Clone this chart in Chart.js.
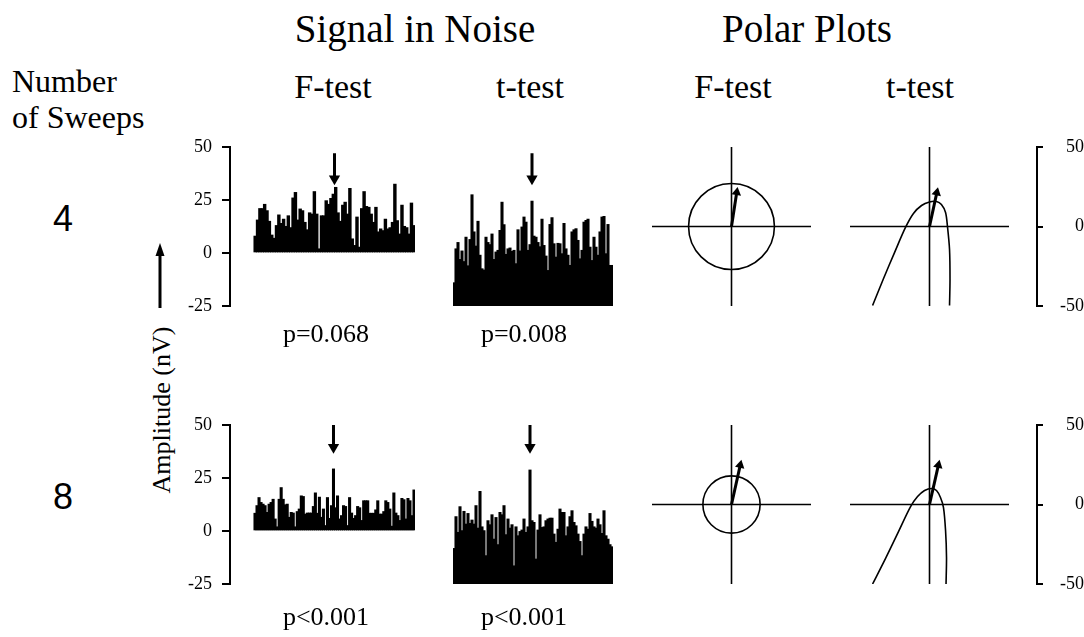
<!DOCTYPE html>
<html>
<head>
<meta charset="utf-8">
<script src="https://cdn.jsdelivr.net/npm/chart.js@4.4.1/dist/chart.umd.min.js"></script>
<style>
  body { margin: 0; width: 1084px; height: 637px; overflow: hidden; position: relative; background: #fff;
         font-family: "Liberation Serif", "Times New Roman", serif; color: #000; }
  canvas, .t { position: absolute; }
  .t { white-space: nowrap; line-height: 1; }
</style>
</head>
<body>
<svg style="position:absolute;left:150px;top:238px" width="20" height="75">
  <line x1="10" y1="70" x2="10" y2="15" stroke="#000" stroke-width="3"/>
  <polygon points="10,5 5.5,18 14.5,18" fill="#000"/>
</svg>
<script>
// amplitude spectra (nV), one value per frequency bin
const fTest4 = [8, 15.6, 21, 21, 23, 20, 15, 8.5, 7, 13, 18, 14, 16, 12.6, 17.6, 12, 26, 28.6, 15.6, 20.8,
  20, 14.5, 11, 19, 18.4, 29, 18.4, 2, 17.6, 17.6, 24.7, 23, 25.8, 27.8, 31, 19, 15, 22.6, 24, 18.4,
  30.5, 6.7, 3.6, 17, 2.8, 21, 29, 22, 21.6, 18.4, 14.5, 21.6, 10, 11.4, 10.6, 16, 11.4, 12, 14.5, 32.5,
  15.3, 9, 22.6, 12.6, 12, 9, 23.6, 13];
const tTest4 = [-14, 2, 5, -3, 1, -4, 7.5, -6, 6.4, 27.5, 10, 3.3, 15, -1, -7.4, -8, 7.5, 5, 4, 9,
  -3, 0.5, 1.3, 10.7, 24, 13.4, -0.6, 2, 2.4, 0.8, 1.3, -5, 11, 1, 12.3, 17, 14.6, 1.3, 4, 24.5,
  8, 7.5, 5, 3, 16, 3.6, -1.4, -8.2, 13.5, 16.7, 4.4, -1.9, 4.6, 4.4, -0.3, 14, 2, -1, -5.8, 10,
  11, 11.5, 6, -2.7, 1.3, 14.6, 15.4, 16, 2.8, -3.5, 7.5, 2.8, -1, 10, 17, 17.3, -0.3, 13.5, -5.8, -5.8];
const fTest8 = [8.4, 12, 15.8, 13.5, 12.7, 12, 8.8, 12.7, 13.5, 15, 5.7, 2, 15, 20.5, 15, 12.4, 12.7, 6.5, 8.8, 8.5,
  2, 9.2, 10.4, 16.6, 16.3, 8, 8.5, 8.5, 8.5, 11.6, 18, 8.4, 16, 6.5, 10.4, 2.6, 15.8, 6, 12, 29.3,
  11, 16.6, 5.7, 7.3, 12, 11.6, 2.6, 15.8, 8.5, 6, 7.3, 11.6, 11, 5, 14.3, 14.3, 14.3, 8.4, 8.4, 8.4,
  10, 14.3, 8, 8, 9.2, 14.3, 13.5, 10.4, 2.3, 18, 8.5, 7.3, 5, 15.4, 14.8, 5.7, 15.4, 14.3, 7.3, 19.4];
const tTest8 = [-8.2, 6.8, -0.6, 11.5, 0.2, 9.3, 3.3, 8.3, 3.6, 5.2, 3.3, 12, 1.4, 18.7, 2, 0.2, -11.6, 4.9, 3, 7.7,
  -3.8, 6.4, -6.4, 8.8, 7.7, 12, -1.7, 5.7, 1.4, 3, -16.4, 2, -2.2, -0.2, 0.5, 5.7, -0.6, 2, 28.8, 4.9,
  4.1, -13.2, 0.5, 7.7, 1.7, 2, 4.9, 5.7, 6.1, 6.1, -1.4, -5.3, 0.9, 10.4, 8.8, 8.8, -2.2, 2, 6.8, 9.6,
  4.1, 2.5, -1.4, -4.9, -11.6, -1.4, 2, 0.9, 8.3, 4.6, 2, 1.4, 5.7, 3, -1.1, 9.6, -2.2, -3.8, -6.4, -7.4];
const signalBins = [33.5, 39, 39, 38];        // f4, t4, f8, t8
const markerY = [[47, 35], [50, 39.5]];      // arrow above the signal bin, per row
const spectrumTicks = [-25, 0, 25, 50];

// polar plots (nV)
const circleRadius = [27, 18];
const fVector4 = [3.3, 21.5];
const fVector8 = [5.5, 24.8];
const tVector4 = [4.6, 21.3];
const tVector8 = [5.6, 24.8];
const tCurve4 = [[-35.8, -49.7], [-28.9, -32.7], [-22, -16.4], [-15.1, -0.6], [-10.1, 8.2], [-5, 13.2],
  [0, 15.4], [4.4, 15.7], [7.5, 13.8], [10.1, 8.8], [11.3, 0], [12.6, -14.5], [12.9, -33.3], [12.6, -49.7]];
const tCurve8 = [[-35.8, -50], [-27.7, -34], [-19.5, -17], [-11.9, -1.3], [-7.5, 5], [-3.1, 8.8],
  [1.3, 10.1], [4.4, 8.8], [6.9, 4.4], [8.8, -1.9], [10.1, -16.4], [10.7, -33.3], [10.4, -50]];
const polarTicks = [-50, 0, 50];

const columnTitles = ['F-test', 't-test', 'F-test', 't-test'];
const sweepCounts = ['4', '8'];
const pValues = [['p=0.068', 'p=0.008'], ['p<0.001', 'p<0.001']];

const H = 159;
const rowTop = [147, 425];
const VPAD = 26;   // room above/below each plot for the end tick labels
const serif = 'Liberation Serif';

function label(text, x, base, size, align, family) {
  const d = document.createElement('div');
  d.className = 't';
  d.textContent = text;
  d.style.fontSize = size + 'px';
  if (family) d.style.fontFamily = family;
  d.style.top = (base - 0.84 * size) + 'px';
  d.style.left = x + 'px';
  if (align !== 'left') d.style.transform = 'translateX(-50%)';
  document.body.appendChild(d);
  return d;
}

function makeCanvas(left, top, w, h) {
  const c = document.createElement('canvas');
  c.width = w; c.height = h;
  c.style.left = left + 'px';
  c.style.top = top + 'px';
  document.body.appendChild(c);
  return c;
}

const base = {
  animation: false, responsive: false, devicePixelRatio: 1,
  plugins: { legend: { display: false }, tooltip: { enabled: false } }
};

function spectrum(values, floor, bin, row, withAxis) {
  const n = values.length;
  const left = withAxis ? 180 : 453;
  const width = withAxis ? 235 : 160;
  const axisW = withAxis ? 50 : 0;
  const plotW = width - axisW;
  const pxPerBin = (withAxis ? 161 : 160) / n;
  const cv = makeCanvas(left, rowTop[row] - VPAD, width, H + 2 * VPAD);
  new Chart(cv, {
    type: 'bar',
    data: { datasets: [
      { type: 'line', data: [{ x: bin, y: markerY[row][0] }, { x: bin, y: markerY[row][1] }],
        borderColor: '#000', borderWidth: 3, pointStyle: 'triangle', pointRadius: [0, 6.5],
        pointRotation: 180, pointBackgroundColor: '#000', pointBorderWidth: 0 },
      { type: 'bar', data: values.map((v, i) => ({ x: i, y: [floor, v] })),
        backgroundColor: '#000', borderWidth: 0, barThickness: pxPerBin + 0.4 }
    ] },
    options: {
      ...base,
      layout: { autoPadding: false, padding: { top: VPAD, bottom: VPAD, left: 0, right: 0 } },
      scales: {
        x: { type: 'linear', display: false, offset: false, min: n - 0.5 - plotW / pxPerBin, max: n - 0.5,
             ticks: { stepSize: 10 } },
        y: {
          display: withAxis, min: -25, max: 50,
          afterBuildTicks: s => { s.ticks = spectrumTicks.map(v => ({ value: v })); },
          afterFit: s => { s.width = axisW; },
          border: { display: true, color: '#000', width: 2 },
          grid: { display: true, drawOnChartArea: false, drawTicks: true, tickLength: 8, color: '#000', lineWidth: 2 },
          ticks: { color: '#000', padding: 10, font: { family: serif, size: 18 } }
        }
      }
    }
  });
}

const ring = {
  id: 'ring',
  afterDatasetsDraw(chart, args, opts) {
    if (!opts.r) return;
    const { x, y } = chart.scales;
    const ctx = chart.ctx;
    const cx = x.getPixelForValue(0), cy = y.getPixelForValue(0);
    ctx.save();
    ctx.beginPath();
    ctx.arc(cx, cy, x.getPixelForValue(opts.r) - cx, 0, Math.PI * 2);
    ctx.lineWidth = 1.6;
    ctx.strokeStyle = '#000';
    ctx.stroke();
    ctx.restore();
  }
};

function polarPlot(row, withAxis, vector, curve, radius) {
  const PAD = 10;
  const areaLeft = withAxis ? 850 : 652;
  const areaW = withAxis ? 1037 - 850 : H;
  const axisW = withAxis ? 1084 - 1037 : 0;
  const cv = makeCanvas(areaLeft - PAD, rowTop[row] - VPAD, PAD + areaW + (withAxis ? axisW : PAD), H + 2 * VPAD);
  const line = (pts, w, extra) => Object.assign({
    data: pts.map(([x, y]) => ({ x, y })), showLine: true, borderColor: '#000',
    borderWidth: w, pointRadius: 0, fill: false
  }, extra || {});
  const datasets = [
    line([[0, 0], vector], 3, { pointStyle: 'triangle', pointRadius: [0, 5.5], pointBorderWidth: 0,
      pointBackgroundColor: '#000', pointRotation: Math.atan2(vector[0], vector[1]) * 180 / Math.PI }),
    line([[-50, 0], [50, 0]], 1.6),
    line([[0, -50], [0, 50]], 1.6)
  ];
  if (curve) datasets.push(line(curve, 1.6, { tension: 0.3 }));
  new Chart(cv, {
    type: 'scatter',
    data: { datasets },
    plugins: [ring],
    options: {
      ...base,
      plugins: { ...base.plugins, ring: { r: radius || 0 } },
      layout: { autoPadding: false, padding: { top: VPAD, bottom: VPAD, left: PAD, right: withAxis ? 0 : PAD } },
      scales: {
        x: { type: 'linear', display: false, offset: false, min: -50, max: -50 + 100 * areaW / H },
        y: {
          type: 'linear', display: withAxis, position: 'right', min: -50, max: 50,
          afterBuildTicks: s => { s.ticks = polarTicks.map(v => ({ value: v })); },
          afterFit: s => { s.width = axisW; },
          border: { display: true, color: '#000', width: 2 },
          grid: { display: true, drawOnChartArea: false, drawTicks: true, tickLength: 6, color: '#000', lineWidth: 2 },
          ticks: { color: '#000', padding: 6, crossAlign: 'far', font: { family: serif, size: 18 } }
        }
      }
    }
  });
}

spectrum(fTest4, 0, signalBins[0], 0, true);
spectrum(tTest4, -25, signalBins[1], 0, false);
spectrum(fTest8, 0, signalBins[2], 1, true);
spectrum(tTest8, -25, signalBins[3], 1, false);

polarPlot(0, false, fVector4, null, circleRadius[0]);
polarPlot(0, true, tVector4, tCurve4, 0);
polarPlot(1, false, fVector8, null, circleRadius[1]);
polarPlot(1, true, tVector8, tCurve8, 0);

label('Signal in Noise', 415, 42, 39);
label('Polar Plots', 807, 42, 39);
label('Number', 12, 92, 32, 'left');
label('of Sweeps', 12, 128, 32, 'left');
[333, 530, 733, 920].forEach((x, i) => label(columnTitles[i], x, 99, 34));
[231, 509].forEach((y, i) => label(sweepCounts[i], 63, y, 36, 'center', 'Liberation Sans'));
[343, 626].forEach((y, r) => [326, 524].forEach((x, c) => label(pValues[r][c], x, y, 26)));
const amp = label('Amplitude (nV)', 162, 0, 26, 'left');
amp.style.top = '410px';
amp.style.transform = 'translate(-50%, -50%) rotate(-90deg)';
</script>
</body>
</html>
